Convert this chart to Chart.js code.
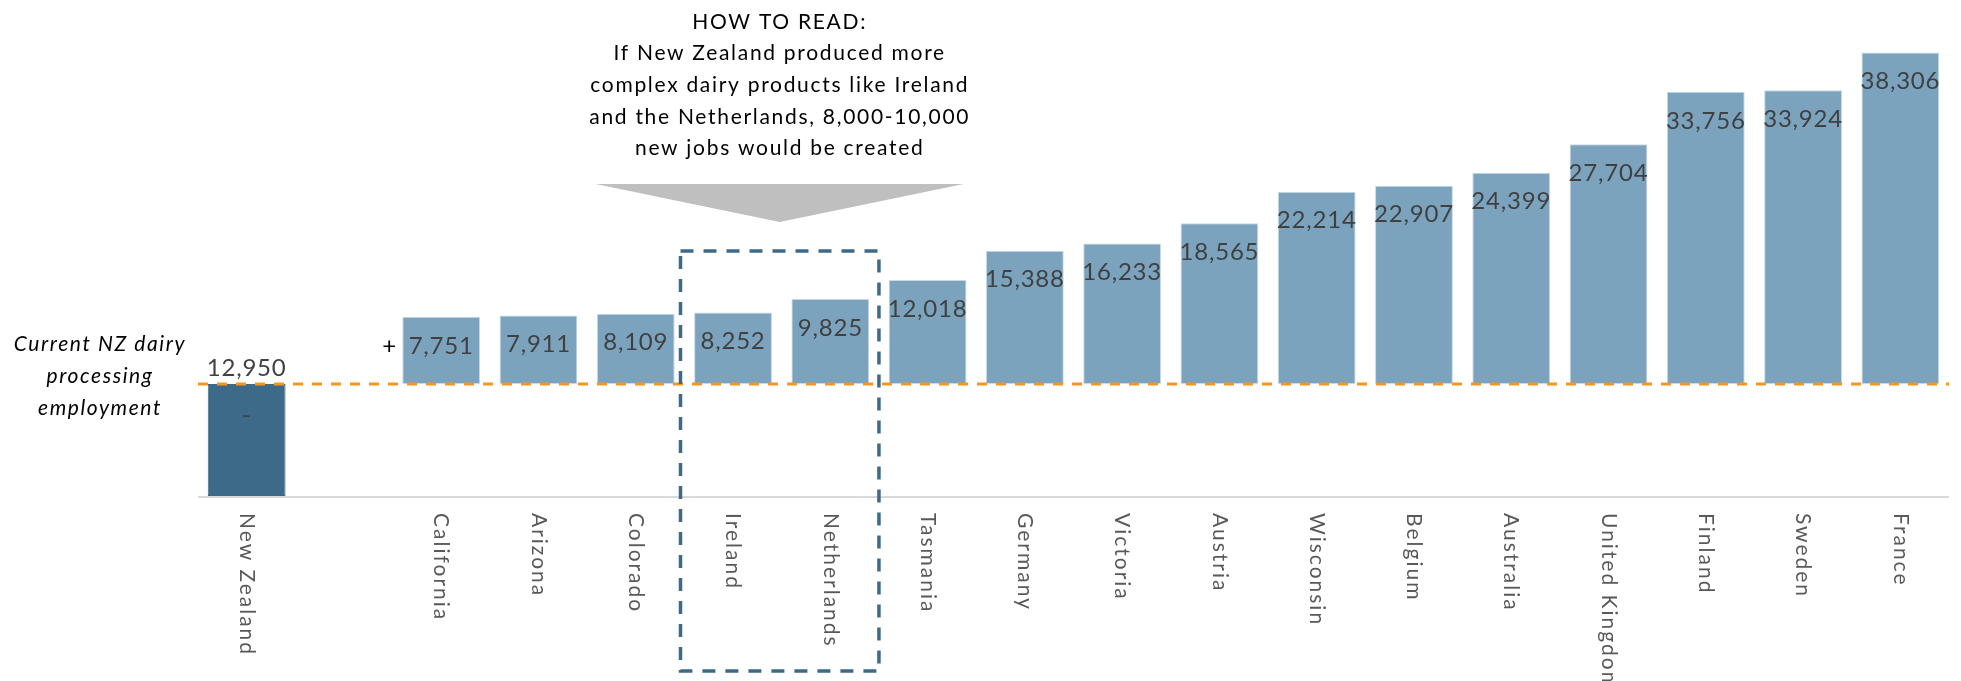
<!DOCTYPE html>
<html>
<head>
<meta charset="utf-8">
<script src="https://cdn.jsdelivr.net/npm/chart.js@4/dist/chart.umd.min.js"></script>
<style>
  html, body { margin: 0; padding: 0; background: #fff; }
  canvas { display: block; }
</style>
</head>
<body>
<canvas id="jobsChart" width="1961" height="681"></canvas>
<script>
// regions; the empty slot separates NZ from the comparison set
const regions = ['New Zealand', '', 'California', 'Arizona', 'Colorado', 'Ireland', 'Netherlands',
  'Tasmania', 'Germany', 'Victoria', 'Austria', 'Wisconsin', 'Belgium', 'Australia',
  'United Kingdom', 'Finland', 'Sweden', 'France'];
const currentJobs = 12950;
const extraJobs = [null, null, 7751, 7911, 8109, 8252, 9825, 12018, 15388, 16233, 18565,
  22214, 22907, 24399, 27704, 33756, 33924, 38306];
const boxedRegions = ['Ireland', 'Netherlands'];
const noteLines = ['HOW TO READ:', 'If New Zealand produced more', 'complex dairy products like Ireland',
  'and the Netherlands, 8,000-10,000', 'new jobs would be created'];
const sideLines = ['Current NZ dairy', 'processing', 'employment'];

const FONT = 'Lato, "Open Sans", sans-serif';
const nzColor = '#3d6a89';
const barColor = '#7ba3bd';

const barData = regions.map((r, i) => {
  if (i === 0) return [0, currentJobs];
  if (extraJobs[i] == null) return null;
  return [currentJobs, currentJobs + extraJobs[i]];
});

const fmt = n => n.toLocaleString('en-US');

const overlay = {
  id: 'overlay',
  afterDatasetsDraw(chart) {
    const { ctx, chartArea, scales } = chart;
    const x = scales.x, y = scales.y;
    const slot = x.getPixelForValue(1) - x.getPixelForValue(0);
    const baseY = y.getPixelForValue(currentJobs);
    const zeroY = y.getPixelForValue(0);
    ctx.save();

    // current employment line
    ctx.strokeStyle = '#f7961e';
    ctx.lineWidth = 3;
    ctx.setLineDash([10, 9]);
    ctx.beginPath();
    ctx.moveTo(chartArea.left, baseY);
    ctx.lineTo(chartArea.right, baseY);
    ctx.stroke();
    ctx.setLineDash([]);

    // category axis
    ctx.strokeStyle = '#d9d9d9';
    ctx.lineWidth = 2;
    ctx.beginPath();
    ctx.moveTo(chartArea.left, zeroY + 1);
    ctx.lineTo(chartArea.right, zeroY + 1);
    ctx.stroke();

    // value labels
    ctx.fillStyle = '#404040';
    ctx.font = '24px ' + FONT;
    ctx.letterSpacing = '0.8px';
    ctx.textAlign = 'center';
    ctx.textBaseline = 'middle';
    const meta = chart.getDatasetMeta(0);
    meta.data.forEach((bar, i) => {
      if (i === 0 || extraJobs[i] == null) return;
      ctx.fillText(fmt(extraJobs[i]), bar.x, bar.y + 29);
    });
    const nz = meta.data[0];
    ctx.fillText(fmt(currentJobs), nz.x, baseY - 16);
    ctx.fillText('-', nz.x, baseY + 31);
    ctx.fillStyle = '#000';
    ctx.fillText('+', x.getPixelForValue(2) - slot * 0.53, baseY - 38);

    // rotated category labels
    ctx.fillStyle = '#595959';
    ctx.font = '21px ' + FONT;
    ctx.letterSpacing = '2px';
    ctx.textAlign = 'left';
    regions.forEach((r, i) => {
      if (!r) return;
      ctx.save();
      ctx.translate(x.getPixelForValue(i), zeroY + 17);
      ctx.rotate(Math.PI / 2);
      ctx.fillText(r, 0, 0);
      ctx.restore();
    });

    // side note
    ctx.fillStyle = '#000';
    ctx.font = 'italic 21px ' + FONT;
    ctx.letterSpacing = '1.6px';
    ctx.textAlign = 'center';
    sideLines.forEach((t, i) => ctx.fillText(t, 100, baseY - 40 + i * 32));

    // box around the highlighted pair
    const i0 = regions.indexOf(boxedRegions[0]);
    const i1 = regions.indexOf(boxedRegions[1]);
    const bx0 = x.getPixelForValue(i0) - slot * 0.54;
    const bx1 = x.getPixelForValue(i1) + slot * 0.5;
    ctx.strokeStyle = nzColor;
    ctx.lineWidth = 3.5;
    ctx.setLineDash([13, 10]);
    ctx.strokeRect(bx0, 251, bx1 - bx0, 420);
    ctx.setLineDash([]);

    // explanatory note and arrow
    const cx = (bx0 + bx1) / 2;
    ctx.fillStyle = '#000';
    ctx.font = '21px ' + FONT;
    ctx.letterSpacing = '1.7px';
    noteLines.forEach((t, i) => ctx.fillText(t, cx, 22 + i * 31.6));
    ctx.fillStyle = '#bfbfbf';
    ctx.beginPath();
    ctx.moveTo(cx - 184, 184);
    ctx.lineTo(cx + 184, 184);
    ctx.lineTo(cx, 222);
    ctx.closePath();
    ctx.fill();

    ctx.restore();
  }
};

new Chart(document.getElementById('jobsChart'), {
  type: 'bar',
  data: {
    labels: regions,
    datasets: [{
      data: barData,
      backgroundColor: regions.map((r, i) => i === 0 ? nzColor : barColor),
      borderColor: regions.map((r, i) => i === 0 ? nzColor : '#c8d9e4'),
      borderWidth: 1,
      borderSkipped: false,
      barPercentage: 0.8,
      categoryPercentage: 1.0
    }]
  },
  options: {
    responsive: false,
    animation: false,
    layout: { padding: { left: 198, right: 12, top: 20, bottom: 185 } },
    scales: {
      x: { display: false },
      y: { display: false, min: 0, max: 55000 }
    },
    plugins: {
      legend: { display: false },
      tooltip: { enabled: false }
    }
  },
  plugins: [overlay]
});
</script>
</body>
</html>
